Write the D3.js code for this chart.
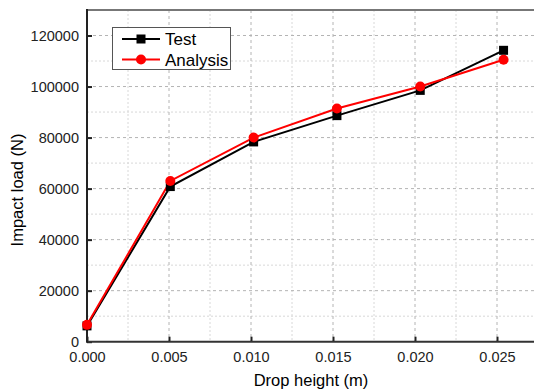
<!DOCTYPE html>
<html>
<head>
<meta charset="utf-8">
<script src="https://cdn.jsdelivr.net/npm/d3@7"></script>
<style>
  body { margin: 0; background: #fff; }
  svg text { font-family: "Liberation Sans", Arial, sans-serif; }
</style>
</head>
<body>
<div id="chart"></div>
<script>
// drop heights (m)
const heights = [0, 0.00508, 0.01016, 0.01524, 0.02032, 0.0254];
const testLoad = [6200, 60800, 78300, 88600, 98500, 114200];
const analysisLoad = [6600, 63000, 80000, 91400, 100000, 110500];
const xTicks = [0, 0.005, 0.010, 0.015, 0.020, 0.025];
const yTicks = [0, 20000, 40000, 60000, 80000, 100000, 120000];

const width = 534, height = 392;
const margin = {top: 10, left: 87, bottom: 50};

const svg = d3.select("#chart").append("svg")
  .attr("width", width)
  .attr("height", height);

const x = d3.scaleLinear().domain([0, 0.0275]).range([margin.left, margin.left + 0.0275 * 16400]);
const y = d3.scaleLinear().domain([0, 130000]).range([height - margin.bottom - 0.3, margin.top]);

const x0 = x(0), x1 = width + 5, yb = y(0), yt = y(130000);

// minor grid
const minorX = d3.range(0.0025, 0.0275, 0.005);
const minorY = d3.range(10000, 130000, 20000);
svg.append("g").selectAll("line").data(minorX).join("line")
  .attr("x1", d => x(d)).attr("x2", d => x(d)).attr("y1", yt).attr("y2", yb)
  .attr("stroke", "#d8d8d8").attr("stroke-width", 1).attr("stroke-dasharray", "2,2");
svg.append("g").selectAll("line").data(minorY).join("line")
  .attr("x1", x0).attr("x2", x1).attr("y1", d => y(d)).attr("y2", d => y(d))
  .attr("stroke", "#d8d8d8").attr("stroke-width", 1).attr("stroke-dasharray", "2,2");

// major grid
svg.append("g").selectAll("line").data(xTicks.slice(1)).join("line")
  .attr("x1", d => x(d)).attr("x2", d => x(d)).attr("y1", yt).attr("y2", yb)
  .attr("stroke", "#b4b4b4").attr("stroke-width", 1).attr("stroke-dasharray", "3,3");
svg.append("g").selectAll("line").data(yTicks.slice(1)).join("line")
  .attr("x1", x0).attr("x2", x1).attr("y1", d => y(d)).attr("y2", d => y(d))
  .attr("stroke", "#b4b4b4").attr("stroke-width", 1).attr("stroke-dasharray", "3,3");

// top border
svg.append("line")
  .attr("x1", x0).attr("x2", x1).attr("y1", yt).attr("y2", yt)
  .attr("stroke", "#777").attr("stroke-width", 2);

// axes
const xAxis = d3.axisBottom(x).tickValues(xTicks).tickFormat(d3.format(".3f")).tickSize(-5).tickPadding(10);
const yAxis = d3.axisLeft(y).tickValues(yTicks).tickFormat(d3.format("d")).tickSize(-5).tickPadding(8);

const gx = svg.append("g").attr("transform", `translate(0,${yb})`).call(xAxis);
const gy = svg.append("g").attr("transform", `translate(${x0},0)`).call(yAxis);
[gx, gy].forEach(g => {
  g.select(".domain").remove();
  g.selectAll(".tick line").attr("stroke", "#222").attr("stroke-width", 2);
  g.selectAll("text").attr("fill", "#222").style("font-size", "14.5px");
});
svg.append("line").attr("x1", x0).attr("x2", x1).attr("y1", yb).attr("y2", yb)
  .attr("stroke", "#333").attr("stroke-width", 2);
svg.append("line").attr("x1", x0).attr("x2", x0).attr("y1", yt - 1).attr("y2", yb + 1)
  .attr("stroke", "#222").attr("stroke-width", 2);

// axis titles
svg.append("text")
  .attr("x", 311).attr("y", 386)
  .attr("text-anchor", "middle")
  .style("font-size", "16.5px")
  .text("Drop height (m)");
svg.append("text")
  .attr("transform", `translate(23,190) rotate(-90)`)
  .attr("text-anchor", "middle")
  .style("font-size", "16.5px")
  .text("Impact load (N)");

// series
const line = d3.line().x((d, i) => x(heights[i])).y(d => y(d));

svg.append("path").datum(testLoad)
  .attr("d", line).attr("fill", "none").attr("stroke", "#000").attr("stroke-width", 2);
svg.append("path").datum(analysisLoad)
  .attr("d", line).attr("fill", "none").attr("stroke", "#f00").attr("stroke-width", 2);

svg.append("g").selectAll("rect").data(testLoad).join("rect")
  .attr("x", (d, i) => x(heights[i]) - 4.5).attr("y", d => y(d) - 4.5)
  .attr("width", 9).attr("height", 9).attr("fill", "#000");
svg.append("g").selectAll("circle").data(analysisLoad).join("circle")
  .attr("cx", (d, i) => x(heights[i])).attr("cy", d => y(d))
  .attr("r", 5).attr("fill", "#f00");

// legend
const legend = svg.append("g");
legend.append("rect")
  .attr("x", 112.5).attr("y", 27.5).attr("width", 118).attr("height", 42)
  .attr("fill", "#fff").attr("stroke", "#555").attr("stroke-width", 1);
const items = [
  {name: "Test", color: "#000", shape: "square", yy: 39},
  {name: "Analysis", color: "#f00", shape: "circle", yy: 59.5}
];
items.forEach(it => {
  legend.append("line").attr("x1", 122).attr("x2", 160).attr("y1", it.yy).attr("y2", it.yy)
    .attr("stroke", it.color).attr("stroke-width", 2);
  if (it.shape === "square") {
    legend.append("rect").attr("x", 141 - 4.5).attr("y", it.yy - 4.5).attr("width", 9).attr("height", 9).attr("fill", it.color);
  } else {
    legend.append("circle").attr("cx", 141).attr("cy", it.yy).attr("r", 5).attr("fill", it.color);
  }
  legend.append("text").attr("x", 165).attr("y", it.yy + 6)
    .style("font-size", "17px").text(it.name);
});
</script>
</body>
</html>
